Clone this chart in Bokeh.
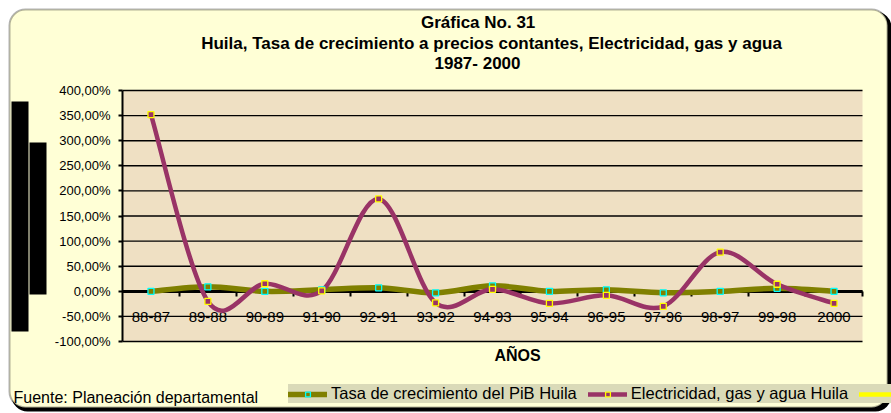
import numpy as np
from bokeh.plotting import figure
from bokeh.models import (Range1d, FixedTicker, BoxAnnotation, Label, Legend,
                          LegendItem, LinearAxis)
from bokeh.embed import file_html
from bokeh.resources import INLINE

# ---------------- data ----------------
categories = ["88-87", "89-88", "90-89", "91-90", "92-91", "93-92", "94-93",
              "95-94", "96-95", "97-96", "98-97", "99-98", "2000"]
pib_huila = [0, 9, 0, 3, 7, -3, 11, 0, 3, -3, 0, 6, 0]
elec_huila = [352, -20, 15, 1, 184, -23, 4, -24, -8, -30, 78, 14, -24]
y_ticks = [-100, -50, 0, 50, 100, 150, 200, 250, 300, 350, 400]
y_tick_labels = ["-100,00%", "-50,00%", "0,00%", "50,00%", "100,00%", "150,00%",
                 "200,00%", "250,00%", "300,00%", "350,00%", "400,00%"]

FONT = "Liberation Sans"
PURPLE = "#993366"
OLIVE = "#808000"

# ---------------- layout (pixels) ----------------
W, H = 891, 413
PL, PR, PT, PB = 122, 862, 90, 341          # plot area in canvas pixels
n = len(categories)
X0, X1 = -0.5, n - 0.5
Y0, Y1 = y_ticks[0], y_ticks[-1]
xs_per_px = (X1 - X0) / (PR - PL)
ys_per_px = (Y1 - Y0) / (PB - PT)
x_range = Range1d(X0 - PL * xs_per_px, X1 + (W - PR) * xs_per_px)
y_range = Range1d(Y0 - (H - PB) * ys_per_px, Y1 + PT * ys_per_px)

p = figure(width=W, height=H, output_backend="svg", toolbar_location=None,
           x_range=x_range, y_range=y_range, x_axis_location=None,
           y_axis_location=None, min_border=0, title=None)
p.border_fill_color = "white"
p.background_fill_color = "white"
p.outline_line_color = None
p.xgrid.visible = False
p.ygrid.visible = False


def canvas_box(l, t, r, b, **kw):
    p.add_layout(BoxAnnotation(left=l, right=r, top=t, bottom=b,
                               left_units="canvas", right_units="canvas",
                               top_units="canvas", bottom_units="canvas",
                               level="image", **kw))


# outer rounded box with shadow
canvas_box(11, 11, 891, 411, fill_color="black", fill_alpha=1, line_color=None,
           border_radius=16)
canvas_box(9, 9, 887, 407, fill_color="#FFFFD6", fill_alpha=1, line_color="black",
           line_width=2, border_radius=16)
# black bars at left
canvas_box(11, 101, 28, 331, fill_color="black", fill_alpha=1, line_color=None)
canvas_box(29, 142, 46, 294, fill_color="black", fill_alpha=1, line_color=None)
# plot area
p.add_layout(BoxAnnotation(left=X0, right=X1, top=Y1, bottom=Y0, fill_color="#EFE0C3",
                           fill_alpha=1, line_color=None, level="image"))

# horizontal gridlines
p.segment(x0=[X0] * len(y_ticks), x1=[X1] * len(y_ticks), y0=y_ticks, y1=y_ticks,
          line_color="black", line_width=1.4, level="underlay")

# y axis
yax = LinearAxis(fixed_location=X0, bounds=(Y0, Y1))
yax.ticker = FixedTicker(ticks=y_ticks)
yax.major_label_overrides = dict(zip(y_ticks, y_tick_labels))
yax.axis_line_width = 2
yax.axis_line_color = "black"
yax.major_tick_out = 4
yax.major_tick_in = 0
yax.major_tick_line_width = 2
yax.minor_tick_line_color = None
yax.major_label_standoff = 8
yax.major_label_text_font = FONT
yax.major_label_text_font_size = "13px"
yax.major_label_text_color = "black"
p.add_layout(yax, "left")

# x axis at zero
xs = list(range(n))
xax = LinearAxis(fixed_location=0, bounds=(X0, X1))
xax.ticker = FixedTicker(ticks=xs, minor_ticks=[i + 0.5 for i in xs])
xax.major_label_overrides = dict(zip(xs, categories))
xax.axis_line_width = 3
xax.axis_line_color = "black"
xax.major_tick_line_color = None
xax.major_tick_out = 0
xax.major_tick_in = 0
xax.minor_tick_out = 5
xax.minor_tick_in = 0
xax.minor_tick_line_width = 2
xax.minor_tick_line_color = "black"
xax.major_label_standoff = 16
xax.major_label_text_font = FONT
xax.major_label_text_font_size = "15px"
xax.major_label_text_color = "black"
xax.level = "underlay"
p.add_layout(xax, "below")


def smooth(xv, yv):
    x = np.array(xv, float)
    y = np.array(yv, float)
    xp = np.concatenate([[x[0]], x, [x[-1]]])
    yp = np.concatenate([[y[0]], y, [y[-1]]])
    seg = dict(x0=[], y0=[], x1=[], y1=[], cx0=[], cy0=[], cx1=[], cy1=[])
    for i in range(len(x) - 1):
        j = i + 1
        seg["x0"].append(xp[j]); seg["y0"].append(yp[j])
        seg["x1"].append(xp[j + 1]); seg["y1"].append(yp[j + 1])
        seg["cx0"].append(xp[j] + (xp[j + 1] - xp[j - 1]) / 6)
        seg["cy0"].append(yp[j] + (yp[j + 1] - yp[j - 1]) / 6)
        seg["cx1"].append(xp[j + 1] - (xp[j + 2] - xp[j]) / 6)
        seg["cy1"].append(yp[j + 1] - (yp[j + 2] - yp[j]) / 6)
    return seg


p.bezier(source=smooth(xs, pib_huila), x0="x0", y0="y0", x1="x1", y1="y1",
         cx0="cx0", cy0="cy0", cx1="cx1", cy1="cy1",
         line_color=OLIVE, line_width=5.5, line_cap="round")
p.bezier(source=smooth(xs, elec_huila), x0="x0", y0="y0", x1="x1", y1="y1",
         cx0="cx0", cy0="cy0", cx1="cx1", cy1="cy1",
         line_color=PURPLE, line_width=4.5, line_cap="round")
s_pib = p.scatter(xs, pib_huila, marker="square", size=6, fill_color=OLIVE,
                  line_color="#00FFFF", line_width=1.3)
s_elec = p.scatter(xs, elec_huila, marker="square", size=6, fill_color=PURPLE,
                   line_color="#FFFF00", line_width=1.3)

nan = [np.nan]
l_pib = p.line(nan, nan, line_color=OLIVE, line_width=5.5, line_cap="round")
l_elec = p.line(nan, nan, line_color=PURPLE, line_width=4.5, line_cap="round")
l_third = p.line(nan, nan, line_color="#FFFF00", line_width=4.5, line_cap="round")

legend = Legend(items=[
    LegendItem(label="Tasa de crecimiento del PiB Huila", renderers=[l_pib, s_pib]),
    LegendItem(label="Electricidad, gas y agua Huila", renderers=[l_elec, s_elec]),
    LegendItem(label=" ", renderers=[l_third]),
], orientation="horizontal", location=(288, H - 403),
    background_fill_color="#DADAB8", background_fill_alpha=1,
    border_line_color=None, padding=5, margin=0, spacing=11,
    glyph_width=39, glyph_height=12, label_standoff=4,
    label_text_font=FONT, label_text_font_size="16.5px", label_text_color="black")
p.add_layout(legend, "center")


def canvas_label(text, x, y, size, bold=False, align="center"):
    p.add_layout(Label(x=x, y=y, x_units="canvas", y_units="canvas", text=text,
                       text_font=FONT, text_font_size=size,
                       text_font_style="bold" if bold else "normal",
                       text_align=align, text_baseline="middle", text_color="black"))


canvas_label("Gráfica No.  31", 480, 22, "17px", True)
canvas_label("Huila, Tasa de crecimiento a precios contantes, Electricidad, gas y agua", 491, 43, "17px", True)
canvas_label("1987- 2000", 477, 63, "17px", True)
canvas_label("AÑOS", 517, 355, "16px", True)
canvas_label("Fuente: Planeación departamental", 13, 397, "16px", False, "left")

open("out.html", "w").write(file_html(p, INLINE))
